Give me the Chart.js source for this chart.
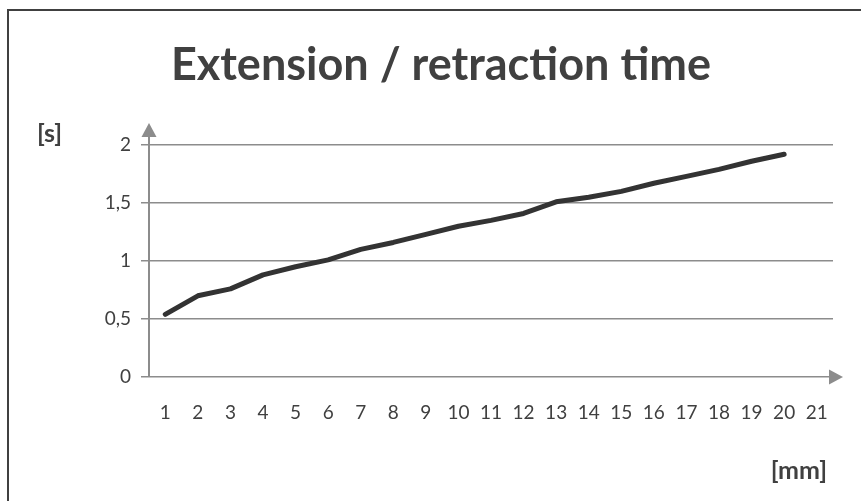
<!DOCTYPE html>
<html>
<head>
<meta charset="utf-8">
<script src="https://cdn.jsdelivr.net/npm/chart.js@4/dist/chart.umd.min.js"></script>
<style>
  html, body { margin: 0; padding: 0; background: #fff; }
  #wrap { width: 861px; height: 501px; position: relative; }
</style>
</head>
<body>
<div id="wrap"><canvas id="chart" width="861" height="501"></canvas></div>
<script>
// chart data
const stroke_mm = ['1','2','3','4','5','6','7','8','9','10','11','12','13','14','15','16','17','18','19','20','21'];
const time_s = [0.54, 0.70, 0.76, 0.88, 0.95, 1.01, 1.10, 1.16, 1.23, 1.30, 1.35, 1.41, 1.51, 1.55, 1.60, 1.67, 1.73, 1.79, 1.86, 1.92];
const y_ticks = [0, 0.5, 1, 1.5, 2];

const chartTitle = 'Extension / retraction time';
const yLabel = '[s]';
const xLabel = '[mm]';

const FONT = 'Lato';
const GRID = '#8c8c8c';
const TXT = '#404040';

// frame, title, axis labels and arrows
const decor = {
  id: 'decor',
  afterDraw(chart) {
    const ctx = chart.ctx;
    const area = chart.chartArea;
    ctx.save();
    // outer frame (left + top, bottom/right run off the picture)
    ctx.strokeStyle = '#404040';
    ctx.lineWidth = 2;
    ctx.beginPath();
    ctx.moveTo(8, 510);
    ctx.lineTo(8, 10);
    ctx.lineTo(870, 10);
    ctx.stroke();

    ctx.fillStyle = TXT;
    ctx.textAlign = 'center';
    ctx.textBaseline = 'alphabetic';
    ctx.font = 'bold 45px ' + FONT;
    ctx.fillText(chartTitle, 441, 80);

    ctx.font = 'bold 25px ' + FONT;
    ctx.textAlign = 'left';
    ctx.fillText(yLabel, 37, 142);
    ctx.textAlign = 'right';
    ctx.fillText(xLabel, 827, 479);

    // axis arrows
    ctx.strokeStyle = GRID;
    ctx.fillStyle = GRID;
    ctx.lineWidth = 2;
    const x0 = area.left, y0 = area.bottom;
    ctx.beginPath();
    ctx.moveTo(x0, y0);
    ctx.lineTo(x0, 136);
    ctx.moveTo(area.right, y0);
    ctx.lineTo(830, y0);
    ctx.stroke();
    ctx.beginPath();
    ctx.moveTo(x0, 123);
    ctx.lineTo(x0 - 7.5, 137);
    ctx.lineTo(x0 + 7.5, 137);
    ctx.closePath();
    ctx.fill();
    ctx.beginPath();
    ctx.moveTo(843, y0);
    ctx.lineTo(829, y0 - 7.5);
    ctx.lineTo(829, y0 + 7.5);
    ctx.closePath();
    ctx.fill();
    ctx.restore();
  }
};

const data = {
  labels: stroke_mm,
  datasets: [{
    label: 'time',
    data: time_s,
    borderColor: '#333333',
    borderWidth: 5,
    pointRadius: 0,
    tension: 0,
    borderCapStyle: 'round',
    borderJoinStyle: 'round'
  }]
};

const config = {
  type: 'line',
  data: data,
  options: {
    responsive: false,
    animation: false,
    layout: { padding: { left: 0, right: 28, top: 145, bottom: 0 } },
    plugins: { legend: { display: false }, title: { display: false }, tooltip: { enabled: false } },
    scales: {
      x: {
        offset: true,
        grid: { display: false, drawTicks: false },
        border: { display: false },
        ticks: { color: TXT, font: { family: FONT, size: 19 }, padding: 24, maxRotation: 0, autoSkip: false },
        afterFit(scale) { scale.height = 124; }
      },
      y: {
        min: 0,
        max: 2,
        afterBuildTicks(scale) { scale.ticks = y_ticks.map(v => ({ value: v })); },
        grid: { color: GRID, lineWidth: 1.5, tickLength: 8, tickColor: GRID },
        border: { display: false },
        ticks: {
          color: TXT,
          font: { family: FONT, size: 19 },
          padding: 10,
          callback: v => String(v).replace('.', ',')
        },
        afterFit(scale) { scale.width = 149; }
      }
    }
  },
  plugins: [decor]
};

const chart = new Chart(document.getElementById('chart'), config);
</script>
</body>
</html>
